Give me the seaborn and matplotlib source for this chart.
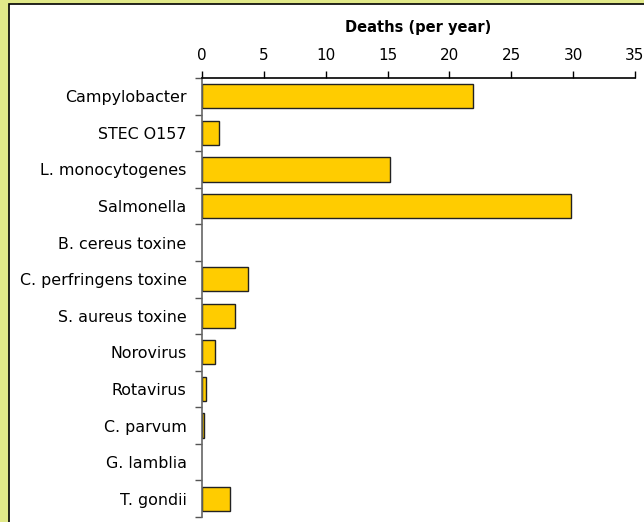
import matplotlib
matplotlib.use("Agg")
import matplotlib.pyplot as plt
from matplotlib.patches import Rectangle
from matplotlib.ticker import FixedLocator
import seaborn as sns
import pandas as pd
import numpy as np

pathogens = ["Campylobacter", "STEC O157", "L. monocytogenes", "Salmonella",
             "B. cereus toxine", "C. perfringens toxine", "S. aureus toxine",
             "Norovirus", "Rotavirus", "C. parvum", "G. lamblia", "T. gondii"]
deaths = [21.9, 1.4, 15.2, 29.8, 0.0, 3.7, 2.7, 1.08, 0.3, 0.15, 0.0, 2.3]
xticks = [0, 5, 10, 15, 20, 25, 30, 35]

sns.set_theme(style="white")
plt.rcParams['font.family'] = ['DejaVu Sans']

df = pd.DataFrame({"pathogen": pathogens, "deaths": deaths})

fig = plt.figure(figsize=(6.44, 5.22), dpi=100)
fig.patch.set_facecolor("#E1E989")
fig.patches.append(Rectangle((9/644, -0.1), 1.2, 1 - 4/522 + 0.1,
                             transform=fig.transFigure, facecolor="white",
                             edgecolor="black", linewidth=1.2, zorder=-10))

ax = fig.add_axes([202/644, 5/522, 433/644, 439/522])
ax.set_facecolor("none")
sns.barplot(data=df, x="deaths", y="pathogen", orient="h", color="#FFCC00",
            edgecolor="#222222", linewidth=1.0, width=0.66, saturation=1, ax=ax)
for p in ax.patches:
    if p.get_width() == 0:
        p.set_visible(False)

ax.set_xlim(0, 35)
ax.set_ylim(len(pathogens) - 0.5, -0.5)
ax.xaxis.set_ticks_position("top")
ax.xaxis.set_label_position("top")
ax.set_xticks(xticks)
ax.set_xticklabels([str(t) for t in xticks], fontsize=11)
ax.set_xlabel("Deaths (per year)", fontsize=10.5, fontweight="bold",
              labelpad=11, color="black")
ax.set_ylabel("")
ax.tick_params(axis="x", direction="out", length=5, width=1, color="black",
               pad=6, top=True, bottom=False)
ax.tick_params(axis="y", which="major", length=0, pad=11, labelsize=11.4)
ax.yaxis.set_minor_locator(FixedLocator(np.arange(-0.5, len(pathogens) + 0.5, 1)))
ax.tick_params(axis="y", which="minor", direction="out", length=5, width=1,
               color="#555555", left=True)
for lab in ax.get_yticklabels():
    lab.set_color("black")
for lab in ax.get_xticklabels():
    lab.set_color("black")

ax.spines["right"].set_visible(False)
ax.spines["bottom"].set_visible(False)
ax.spines["top"].set_color("black")
ax.spines["top"].set_linewidth(1.2)
ax.spines["left"].set_color("#666666")
ax.spines["left"].set_linewidth(1.2)

fig.savefig("out.png", dpi=100, facecolor=fig.get_facecolor())
